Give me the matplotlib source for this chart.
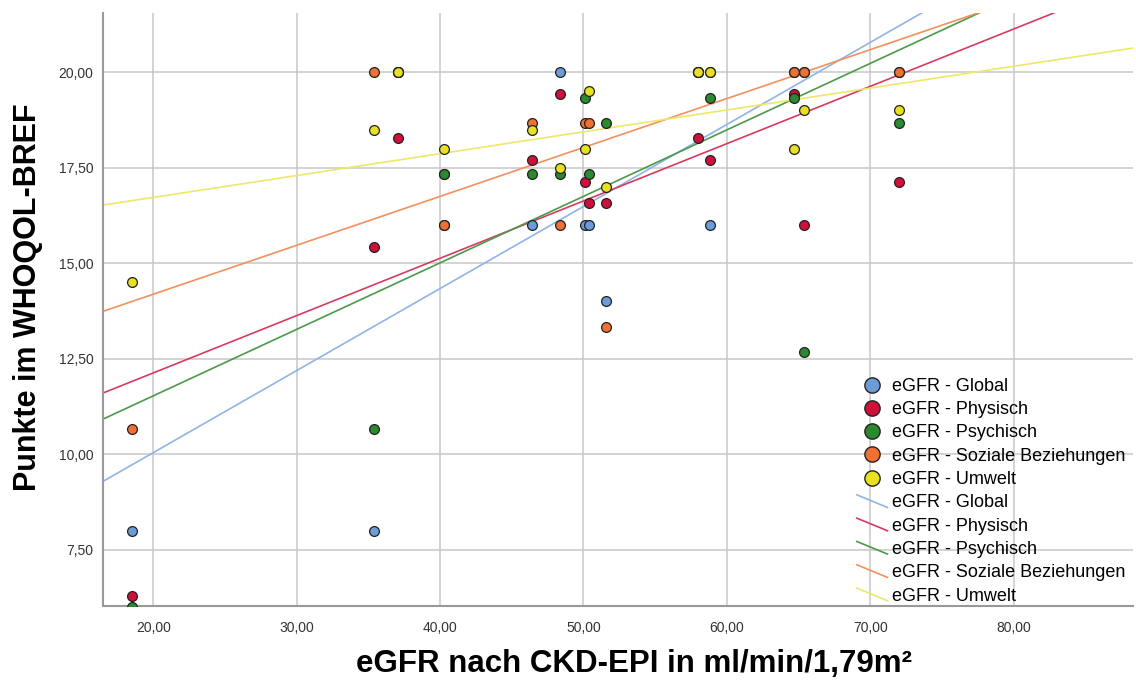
import numpy as np
import matplotlib
matplotlib.use("Agg")
import matplotlib.pyplot as plt
from matplotlib.lines import Line2D
from matplotlib.legend_handler import HandlerBase
from matplotlib.ticker import FuncFormatter

plt.rcParams['font.family'] = ['Liberation Sans', 'DejaVu Sans']

# eGFR (x) per patient
egfr = [18.5, 35.4, 37.1, 40.3, 46.4, 48.4, 50.1, 50.4, 51.6, 58.0, 58.8, 64.7, 65.4, 72.0]

# WHOQOL-BREF domain scores
global_ = [8.0, 8.0, 20.0, 16.0, 16.0, 20.0, 16.0, 16.0, 14.0, 20.0, 16.0, 20.0, 20.0, 20.0]
physisch = [6.29, 15.43, 18.29, 17.33, 17.71, 19.43, 17.14, 16.57, 16.57, 18.29, 17.71, 19.43, 16.0, 17.14]
psychisch = [6.0, 10.67, 20.0, 17.33, 17.33, 17.33, 19.33, 17.33, 18.67, 20.0, 19.33, 19.33, 12.67, 18.67]
soziale = [10.67, 20.0, 20.0, 16.0, 18.67, 16.0, 18.67, 18.67, 13.33, 20.0, 20.0, 20.0, 20.0, 20.0]
umwelt = [14.5, 18.5, 20.0, 18.0, 18.5, 17.5, 18.0, 19.5, 17.0, 20.0, 20.0, 18.0, 19.0, 19.0]

# fit lines (intercept, slope)
fit_intercept = [5.75, 9.13, 8.05, 11.63, 15.58]
fit_slope = [0.2147, 0.150, 0.174, 0.128, 0.0572]

labels = ["eGFR - Global", "eGFR - Physisch", "eGFR - Psychisch",
          "eGFR - Soziale Beziehungen", "eGFR - Umwelt"]
series = [global_, physisch, psychisch, soziale, umwelt]
point_colors = ["#6b9bd9", "#d0103a", "#2b8a2e", "#f07033", "#e8e020"]
line_colors = ["#8fb4e6", "#d83a60", "#4a9a4a", "#f4905e", "#ede86a"]

xmin, xmax = 16.5, 88.3
ymin, ymax = 6.03, 21.55


class DiagLine(HandlerBase):
    # SPSS style legend key: short diagonal line
    def create_artists(self, legend, orig, xdescent, ydescent, width, height, fontsize, trans):
        ln = Line2D([-xdescent, -xdescent + width], [height, -ydescent],
                    color=orig.get_color(), lw=orig.get_linewidth())
        ln.set_transform(trans)
        return [ln]


fig = plt.figure(figsize=(11.36, 6.84), dpi=100)
ax = fig.add_axes([0.0907, 0.114, 0.9063, 0.867])

xs = np.array([xmin, xmax])
for b0, b1, c in zip(fit_intercept, fit_slope, line_colors):
    ax.plot(xs, b0 + b1 * xs, color=c, lw=1.2, zorder=2)

for vals, c in zip(series, point_colors):
    ax.scatter(egfr, vals, s=50, color=c, edgecolors='#222222', linewidths=0.9, zorder=3)

ax.set_xlim(xmin, xmax)
ax.set_ylim(ymin, ymax)
ax.set_xticks([20, 30, 40, 50, 60, 70, 80])
ax.set_yticks([7.5, 10, 12.5, 15, 17.5, 20])
fmt = FuncFormatter(lambda v, p: ("%.2f" % v).replace('.', ','))
ax.xaxis.set_major_formatter(fmt)
ax.yaxis.set_major_formatter(fmt)
ax.tick_params(length=0, labelsize=10, colors='#333333')
ax.tick_params(axis='x', pad=11)
ax.tick_params(axis='y', pad=7)
ax.grid(True, color='#c8c8c8', lw=1.1, zorder=0)
ax.set_axisbelow(True)
for s in ['top', 'right']:
    ax.spines[s].set_visible(False)
for s in ['left', 'bottom']:
    ax.spines[s].set_color('#999999')
    ax.spines[s].set_linewidth(1.5)

ax.set_xlabel("eGFR nach CKD-EPI in ml/min/1,79m²", fontsize=22.5, fontweight='bold')
ax.set_ylabel("Punkte im WHOQOL-BREF", fontsize=22, fontweight='bold')
ax.xaxis.set_label_coords(0.5155, -0.072)
ax.yaxis.set_label_coords(-0.058, 0.521)

handles = []
for lab, c in zip(labels, point_colors):
    handles.append(Line2D([], [], marker='o', ls='none', markersize=11,
                          markerfacecolor=c, markeredgecolor='#222222', markeredgewidth=1, label=lab))
line_handles = []
for lab, c in zip(labels, line_colors):
    h = Line2D([], [], color=c, lw=1.2, label=lab)
    line_handles.append(h)
handles += line_handles
leg = ax.legend(handles=handles, loc='lower right', bbox_to_anchor=(1.0, -0.01),
                frameon=False, fontsize=13, handlelength=1.7, handletextpad=0.25,
                labelspacing=0.35, borderaxespad=0.0,
                handler_map={h: DiagLine() for h in line_handles})

fig.savefig("out.png", dpi=100)
